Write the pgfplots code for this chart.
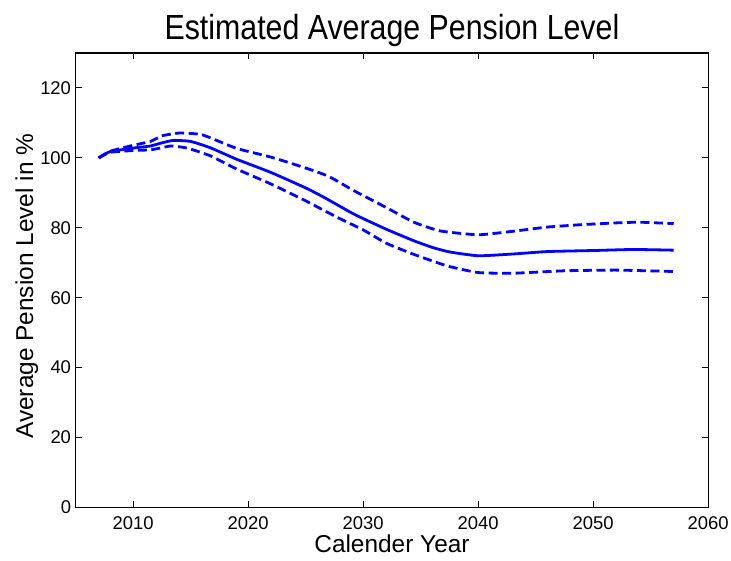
\documentclass[border=0pt]{standalone}
\usepackage{pgfplots}
\pgfplotsset{compat=1.18}
\usepackage{fontspec}
\setmainfont{Liberation Sans}
\newfontfamily\titlefont[FakeStretch=0.87]{Liberation Sans}
\definecolor{mblue}{RGB}{0,0,255}
\begin{document}
\begin{tikzpicture}[x=1bp,y=1bp]
\useasboundingbox (0,0) rectangle (731,561);
\begin{axis}[
  at={(75.7bp,53.5bp)}, anchor=south west,
  scale only axis, width=632.5bp, height=454.5bp,
  xmin=2005, xmax=2060, ymin=0, ymax=130,
  xtick={2010,2020,...,2060}, ytick={0,20,...,120},
  tick align=inside, major tick length=6bp,
  xtick pos=both, ytick pos=both,
  /pgf/number format/assume math mode=true,
  xticklabel style={/pgf/number format/1000 sep={}, anchor=base, yshift=-22.5bp, inner sep=0pt},
  yticklabel style={anchor=east, xshift=-4.5bp, inner sep=0pt},
  tick label style={font=\fontsize{18.5}{22}\selectfont},
  every axis label/.append style={font=\fontsize{24.5}{29}\selectfont},
  xlabel style={at={(axis description cs:0.5,0)}, anchor=base, yshift=-45.5bp, inner sep=0pt},
  ylabel style={at={(axis description cs:0,0.5)}, anchor=base, yshift=42.7bp, xshift=-6bp, inner sep=0pt},
  title style={font=\titlefont\fontsize{35}{40}\selectfont, at={(axis description cs:0.5,1)}, anchor=base, yshift=7.5bp, inner sep=0pt},
  title={Estimated Average Pension Level},
  xlabel={Calender Year},
  ylabel={Average Pension Level in \%},
  axis line style={line width=1.4bp},
  every tick/.style={black, line width=1bp},
]
\addplot[mblue, line width=2.8bp, smooth, tension=0.3] coordinates {
(2007,100.0)(2008,101.8)(2010,102.8)(2011.5,103.4)(2012.5,104.3)(2013.5,105.0)(2015,104.7)(2016.7,102.9)(2019,99.6)(2022,95.8)(2025,91.4)(2026.6,88.7)(2029.2,83.9)(2032,79.6)(2034.4,76.3)(2036,74.4)(2037.5,73.1)(2040,72.0)(2043,72.5)(2046,73.2)(2050,73.5)(2053.5,73.8)(2057,73.6)
};
\addplot[mblue, line width=2.8bp, dash pattern=on 9bp off 4.5bp, smooth, tension=0.3] coordinates {
(2007,100.0)(2008,101.9)(2010,103.6)(2011.5,104.7)(2012.5,106.3)(2014,107.1)(2016,106.6)(2019,102.7)(2022,100.2)(2025,97.1)(2027,94.7)(2029.2,90.6)(2032,85.8)(2034.4,81.6)(2036.7,79.1)(2040,78.0)(2043,79.0)(2046,80.2)(2049,80.9)(2052,81.4)(2054,81.6)(2057,81.2)
};
\addplot[mblue, line width=2.8bp, dash pattern=on 9bp off 4.5bp, smooth, tension=0.3] coordinates {
(2007,100.0)(2008,101.6)(2010,102.1)(2011.5,102.3)(2012.5,102.9)(2013.3,103.4)(2014.7,102.8)(2016.7,100.6)(2019,96.8)(2022,92.5)(2025,87.7)(2027.8,82.9)(2030,79.4)(2032,75.6)(2034.4,72.4)(2037.3,69.1)(2040,67.2)(2043,67.0)(2047.5,67.7)(2052,67.9)(2057,67.5)
};
\end{axis}
\end{tikzpicture}
\end{document}
